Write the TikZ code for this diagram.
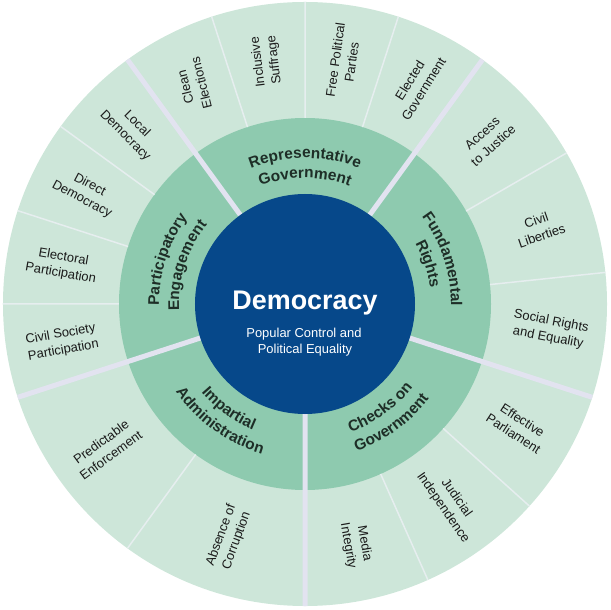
\documentclass[tikz,border=0pt]{standalone}
\usepackage{fontspec}
\setmainfont{Liberation Sans}
\usetikzlibrary{decorations.text}
\definecolor{outerfill}{HTML}{CDE6D9}
\definecolor{ringfill}{HTML}{8ECAAF}
\definecolor{corefill}{HTML}{06488A}
\definecolor{groupsep}{HTML}{E2E3F0}
\definecolor{subsep}{HTML}{E6EEEF}
\definecolor{ringink}{HTML}{1E2E27}
\definecolor{labelink}{HTML}{1A1A1A}
\newcommand{\ringfont}{\fontsize{15.5}{18}\selectfont\bfseries}
\tikzset{
  sublabel/.style={align=center,font=\fontsize{13}{16.5}\selectfont,text=labelink,inner sep=0pt},
  ringlabel/.style={decorate,decoration={text along path,text align=center,
    text color=ringink,text={|\ringfont|#1}}},
  groupline/.style={groupsep,line width=5bp},
  subline/.style={subsep,line width=1.5bp}
}
\begin{document}
\begin{tikzpicture}[x=1bp,y=1bp]
  \useasboundingbox (-305,-306) rectangle (305,304);
  % rings
  \fill[outerfill] (0,0) circle[radius=302bp];
  \fill[ringfill] (0,0) circle[radius=186bp];
  \draw[subline] (72:186)--(72:302) (90:186)--(90:302) (108:186)--(108:302)
    (144:186)--(144:302) (162:186)--(162:302) (180:186)--(180:302)
    (30:186)--(30:302) (6:186)--(6:302) (318:186)--(318:302)
    (294:186)--(294:302) (234:186)--(234:302);
  \draw[groupline] (54:110)--(54:302) (126:110)--(126:302) (198:110)--(198:302)
    (270:110)--(270:302) (342:110)--(342:302);
  \fill[corefill] (0,0) circle[radius=110bp];
  % centre
  \node[text=white,font=\fontsize{27}{30}\selectfont\bfseries,anchor=base] (title) at (0,-6) {Democracy};
  \node[text=white,font=\fontsize{13}{15}\selectfont,anchor=base] (subtop) at (-1,-34) {Popular Control and};
  \node[text=white,font=\fontsize{13}{15}\selectfont,anchor=base] (subbot) at (0,-50) {Political Equality};
  % middle ring
  \path[ringlabel=Representative] (126:146) arc[start angle=126,end angle=54,radius=146bp];
  \path[ringlabel=Government] (126:126) arc[start angle=126,end angle=54,radius=126bp];
  \path[ringlabel=Fundamental] (54:146) arc[start angle=54,end angle=-18,radius=146bp];
  \path[ringlabel=Rights] (54:126) arc[start angle=54,end angle=-18,radius=126bp];
  \path[ringlabel=Participatory] (198:146) arc[start angle=198,end angle=126,radius=146bp];
  \path[ringlabel=Engagement] (198:126) arc[start angle=198,end angle=126,radius=126bp];
  \path[ringlabel=Impartial] (198:136) arc[start angle=198,end angle=270,radius=136bp];
  \path[ringlabel=Administration] (198:156) arc[start angle=198,end angle=270,radius=156bp];
  \path[ringlabel={Checks on}] (270:136) arc[start angle=270,end angle=342,radius=136bp];
  \path[ringlabel=Government] (270:156) arc[start angle=270,end angle=342,radius=156bp];
  % outer ring
  \node[sublabel,rotate=104] (clean) at (117:246) {Clean\\Elections};
  \node[sublabel,rotate=97] (suffrage) at (99:246) {Inclusive\\Suffrage};
  \node[sublabel,rotate=82] (parties) at (81:246) {Free Political\\Parties};
  \node[sublabel,rotate=58] (elected) at (63:246) {Elected\\Government};
  \node[sublabel,rotate=42] (justice) at (42:246) {Access\\to Justice};
  \node[sublabel,rotate=19] (liberties) at (18:246) {Civil\\Liberties};
  \node[sublabel,rotate=-11] (social) at (-6:246) {Social Rights\\and Equality};
  \node[sublabel,rotate=-33] (parliament) at (-30:246) {Effective\\Parliament};
  \node[sublabel,rotate=-55] (judicial) at (-54:246) {Judicial\\Independence};
  \node[sublabel,rotate=-80] (media) at (-78:246) {Media\\Integrity};
  \node[sublabel,rotate=70] (corruption) at (252:246) {Absence of\\Corruption};
  \node[sublabel,rotate=36] (enforcement) at (216:246) {Predictable\\Enforcement};
  \node[sublabel,rotate=10] (civilsoc) at (189:246) {Civil Society\\Participation};
  \node[sublabel,rotate=-10] (electoral) at (171:246) {Electoral\\Participation};
  \node[sublabel,rotate=-28] (direct) at (153:246) {Direct\\Democracy};
  \node[sublabel,rotate=-45] (local) at (135:246) {Local\\Democracy};
\end{tikzpicture}
\end{document}
